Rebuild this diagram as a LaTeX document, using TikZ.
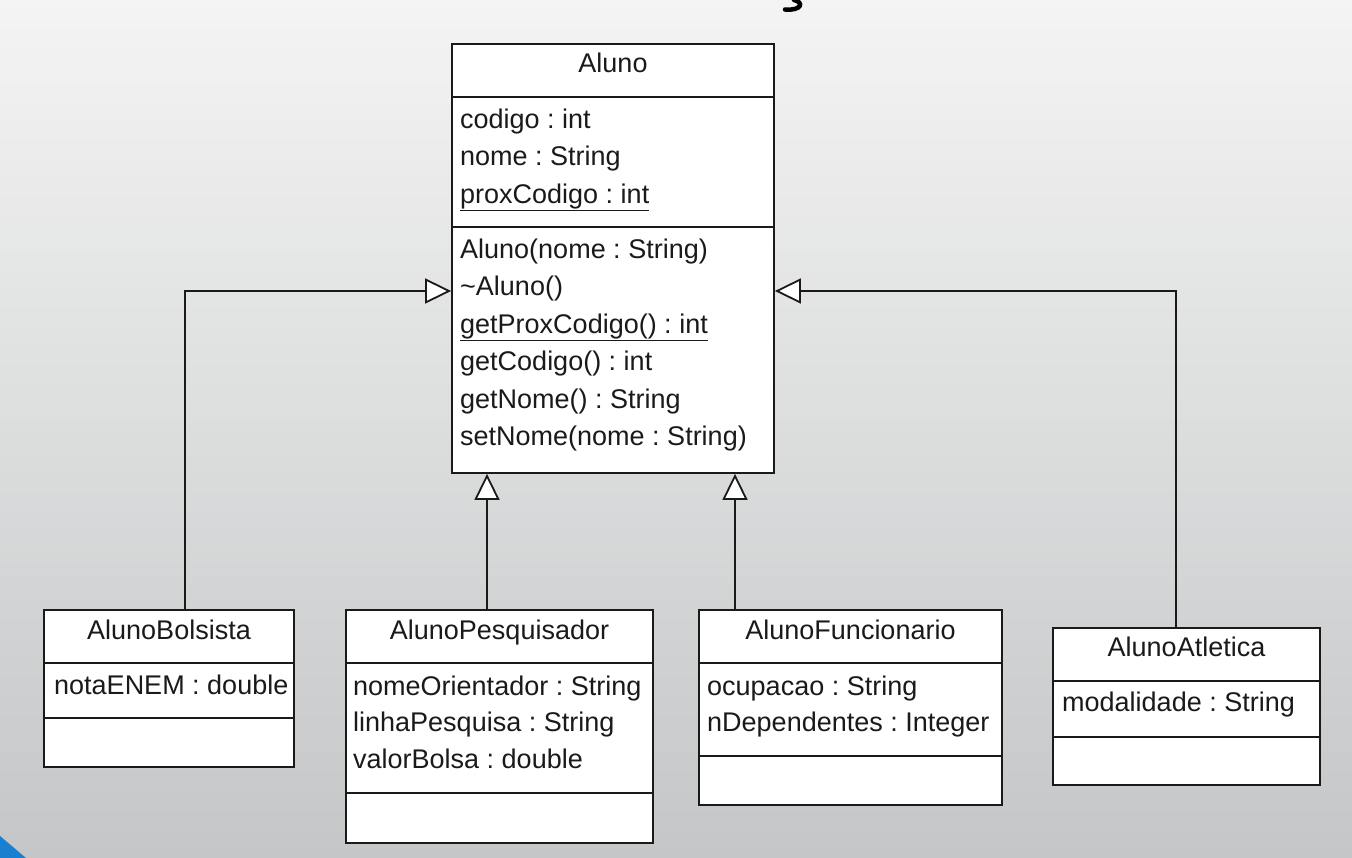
\documentclass[tikz,border=0pt]{standalone}
\usepackage{fontspec}
\setmainfont{Liberation Sans}
\usetikzlibrary{arrows.meta}
\definecolor{bgtop}{HTML}{F4F4F4}
\definecolor{bgbot}{HTML}{C4C6C7}
\definecolor{ink}{HTML}{1A1A1A}
\definecolor{cornerblue}{HTML}{1A7FD0}
\begin{document}
\frenchspacing
\begin{tikzpicture}[x=1pt,y=-1pt,
  box/.style={draw=ink, line width=1.8pt, fill=white, inner sep=0pt, rectangle},
  sep/.style={draw=ink, line width=1.8pt},
  txt/.style={anchor=base west, inner sep=0pt, font=\fontsize{27}{30}\selectfont, text=ink},
  ttl/.style={anchor=base, inner sep=0pt, font=\fontsize{27}{30}\selectfont, text=ink},
  inh/.style={draw=ink, line width=1.8pt, -{Triangle[open, length=26pt, width=25pt, fill=white, line width=1.8pt]}}
]
\useasboundingbox (0,0) rectangle (1352,858);
\shade[top color=bgtop, bottom color=bgbot] (0,0) rectangle (1352,858);
% partial title glyph (cedilla) cut at top
\draw[line width=4.5pt, line cap=round, black] (794,0) .. controls (804,2) and (802,11) .. (785,9.5);
% blue corner
\fill[cornerblue] (0,836) -- (26,858) -- (0,858) -- cycle;

% ---- Aluno
\node[box, minimum width=322pt, minimum height=429pt] (aluno) at (613,258.5) {};
\draw[sep] (452,97) -- (774,97);
\draw[sep] (452,227) -- (774,227);
\node[ttl] (t-aluno) at (613,73) {Aluno};
\node[txt] (a1) at (460,128.5) {codigo : int};
\node[txt] (a2) at (460,166) {nome : String};
\node[txt] (a3) at (460,203.5) {\underline{proxCodigo : int}};
\node[txt] (m1) at (460,258.5) {Aluno(nome : String)};
\node[txt] (m2) at (460,296) {\char"7E Aluno()};
\node[txt] (m3) at (460,333.5) {\underline{getProxCodigo() : int}};
\node[txt] (m4) at (460,371) {getCodigo() : int};
\node[txt] (m5) at (460,408.5) {getNome() : String};
\node[txt] (m6) at (460,446) {setNome(nome : String)};

% ---- AlunoBolsista
\node[box, minimum width=250pt, minimum height=157pt] (bolsista) at (169,688.5) {};
\draw[sep] (44,663) -- (294,663);
\draw[sep] (44,718) -- (294,718);
\node[ttl] (t-bolsista) at (169,639.5) {AlunoBolsista};
\node[txt] (b1) at (54,694.5) {notaENEM : double};

% ---- AlunoPesquisador
\node[box, minimum width=307pt, minimum height=233pt] (pesq) at (499.5,726.5) {};
\draw[sep] (346,663) -- (653,663);
\draw[sep] (346,793) -- (653,793);
\node[ttl] (t-pesq) at (499.5,639.5) {AlunoPesquisador};
\node[txt] (p1) at (353,695) {nomeOrientador : String};
\node[txt] (p2) at (353,731.5) {linhaPesquisa : String};
\node[txt] (p3) at (353,768.5) {valorBolsa : double};

% ---- AlunoFuncionario
\node[box, minimum width=303pt, minimum height=195pt] (func) at (850.5,707.5) {};
\draw[sep] (699,663) -- (1002,663);
\draw[sep] (699,756) -- (1002,756);
\node[ttl] (t-func) at (850.5,639.5) {AlunoFuncionario};
\node[txt] (f1) at (707,695) {ocupacao : String};
\node[txt] (f2) at (707,731.5) {nDependentes : Integer};

% ---- AlunoAtletica
\node[box, minimum width=267pt, minimum height=157pt] (atl) at (1186.5,706.5) {};
\draw[sep] (1053,681) -- (1320,681);
\draw[sep] (1053,737) -- (1320,737);
\node[ttl] (t-atl) at (1186.5,656.5) {AlunoAtletica};
\node[txt] (at1) at (1062,711.5) {modalidade : String};

% ---- generalisation connectors
\coordinate (jb) at (185,291);
\coordinate (jp) at (487,0);
\coordinate (jf) at (735,0);
\coordinate (ja) at (1176,291);
\draw[inh] (bolsista.north -| jb) |- (aluno.west |- jb);
\draw[inh] (pesq.north -| jp) -- (aluno.south -| jp);
\draw[inh] (func.north -| jf) -- (aluno.south -| jf);
\draw[inh] (atl.north -| ja) |- (aluno.east |- ja);
\end{tikzpicture}
\end{document}
